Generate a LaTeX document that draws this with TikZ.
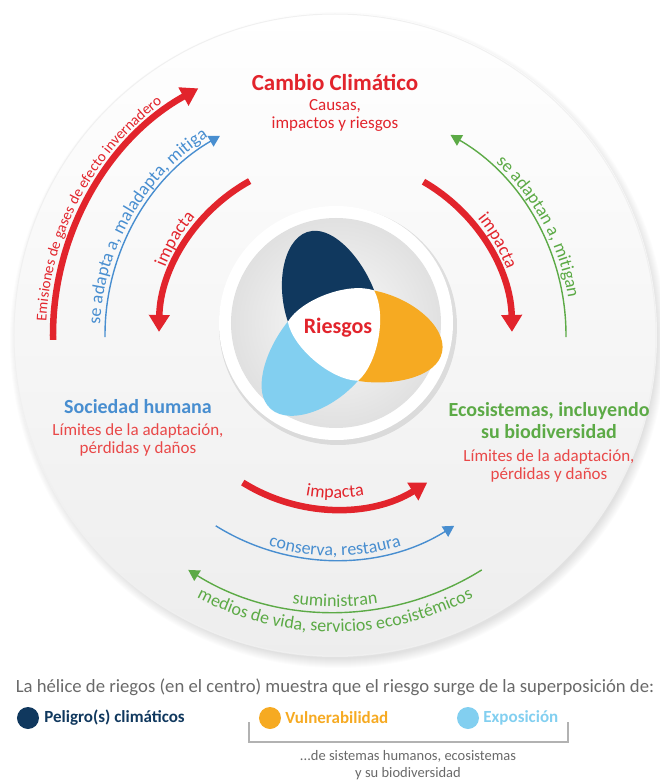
\documentclass[tikz,border=0pt]{standalone}
\usepackage{fontspec}
\setmainfont{Carlito}
\usepackage{tikz}
\usetikzlibrary{arrows.meta,decorations.text,positioning}

\definecolor{rouge}{RGB}{226,36,44}
\definecolor{rougeclair}{RGB}{233,72,72}
\definecolor{bleu}{RGB}{72,142,208}
\definecolor{vert}{RGB}{92,170,70}
\definecolor{marine}{RGB}{16,56,94}
\definecolor{jaune}{RGB}{246,170,34}
\definecolor{ciel}{RGB}{130,207,240}
\definecolor{gristexte}{RGB}{105,105,105}

\newcommand\courbe{\fontsize{18}{20}\selectfont}
\newcommand\courbepetit{\fontsize{15}{17}\selectfont}

\tikzset{
  fleche epaisse/.style={line width=6.5pt, rouge, -{Triangle[width=20pt,length=17pt]}},
  fleche fine/.style={line width=1.4pt, -{Triangle[width=12pt,length=11pt]}},
  texte courbe/.style n args={2}{decorate, decoration={text along path, text align=center, text={|#1|#2}}},
  titre/.style={font=\bfseries\fontsize{23}{25}\selectfont, text=rouge, inner sep=0pt},
  gras/.style={font=\bfseries\fontsize{20}{22.5}\selectfont, align=center, inner sep=0pt},
  sous/.style={font=\fontsize{17}{18}\selectfont, align=center, inner sep=0pt},
  legende/.style={font=\fontsize{18.7}{20}\selectfont, inner sep=0pt},
  petit/.style={font=\fontsize{14.5}{17}\selectfont, align=center, inner sep=0pt},
  point/.style={circle, minimum size=22pt, inner sep=0pt},
  item/.style={font=\bfseries\fontsize{17}{19}\selectfont, inner sep=0pt}
}

\begin{document}
\begin{tikzpicture}[x=1pt,y=1pt]
  \useasboundingbox (-335,-447) rectangle (325,335);
  \coordinate (O) at (0,0);
  \coordinate (ci) at (1,12);
  \coordinate (moyeu) at (5,4);

  % Ombre et grand disque
  \foreach \i in {1,...,10} {
    \fill[black, opacity=0.012] (3,-5) circle (318+\i);
  }
  \shade[top color=white, bottom color=gray!14] (O) circle (322);
  \draw[gray!12, line width=1pt] (O) circle (321);

  % Disque central
  \fill[black, opacity=0.10] (ci) ++(2,-3) circle (119);
  \fill[white] (ci) circle (117);
  \shade[inner color=gray!3, outer color=gray!24] (ci) circle (105);

  % Petales de l'helice
  \foreach \a/\c in {0/marine, -120/jaune, 120/ciel} {
    \fill[\c, shift={(moyeu)}, rotate=\a] (34,41) .. controls (22,72) and (-5,103) .. (-28,100)
      .. controls (-55,97) and (-66,50) .. (-52,9) -- (0,0) -- cycle;
  }
  \fill[white, shift={(moyeu)}] (50:53) .. controls (80:50) and (140:50) .. (170:53)
    .. controls (200:50) and (260:50) .. (290:53) .. controls (320:50) and (20:50) .. (50:53) -- cycle;
  \node[font=\bfseries\fontsize{22}{24}\selectfont, text=rouge] (riesgos) at (3,7) {Riesgos};

  % Fleches de gauche
  \draw[fleche epaisse] (181:282) arc[start angle=181, end angle=119, radius=282];
  \draw[fleche fine, bleu] (180.5:230) arc[start angle=180.5, end angle=120, radius=230];
  \draw[fleche epaisse] (119:176) arc[start angle=119, end angle=179, radius=176];

  % Fleches de droite
  \draw[fleche epaisse] (60:177) arc[start angle=60, end angle=1, radius=177];
  \draw[fleche fine, vert] (-0.5:231) arc[start angle=-0.5, end angle=60, radius=231];

  % Fleches du bas
  \draw[fleche epaisse] (238:174) arc[start angle=238, end angle=302, radius=174];
  \draw[fleche fine, bleu] (238:225) arc[start angle=238, end angle=302, radius=225];
  \draw[fleche fine, vert] (302:277) arc[start angle=302, end angle=238, radius=277];

  % Textes le long des fleches
  \path[texte courbe={\color{rouge}\courbepetit}{Emisiones de gases de efecto invernadero}]
    (182:289) arc[start angle=182, end angle=122, radius=289];
  \path[texte courbe={\color{bleu}\courbe}{se adapta a, maladapta, mitiga}]
    (181:235) arc[start angle=181, end angle=119, radius=235];
  \path[texte courbe={\color{rouge}\courbe}{impacta}]
    (180:183) arc[start angle=180, end angle=118, radius=183];
  \path[texte courbe={\color{rouge}\courbe}{impacta}]
    (60:184) arc[start angle=60, end angle=0, radius=184];
  \path[texte courbe={\color{vert}\courbe}{se adaptan a, mitigan}]
    (58:236) arc[start angle=58, end angle=-2, radius=236];
  \path[texte courbe={\color{rouge}\courbe}{impacta}]
    (240:163) arc[start angle=240, end angle=300, radius=163];
  \path[texte courbe={\color{bleu}\courbe}{conserva, restaura}]
    (235:221) arc[start angle=235, end angle=305, radius=221];
  \path[texte courbe={\color{vert}\courbe}{suministran}]
    (240:272) arc[start angle=240, end angle=300, radius=272];
  \path[texte courbe={\color{vert}\courbe}{medios de vida, servicios ecosistémicos}]
    (232:297) arc[start angle=232, end angle=308, radius=297];

  % Etiquettes des trois systemes
  \node[titre] (cambio) at (0,252) {Cambio Climático};
  \node[sous, text=rouge] (causas) at (0,220) {Causas,\\impactos y riesgos};
  \node[gras, text=bleu] (sociedad) at (-197,-72) {Sociedad humana};
  \node[sous, text=rougeclair] (limites1) at (-197,-105) {Límites de la adaptación,\\pérdidas y daños};
  \node[gras, text=vert] (ecosistemas) at (214,-85.5) {Ecosistemas, incluyendo\\su biodiversidad};
  \node[sous, text=rougeclair] (limites2) at (214,-131) {Límites de la adaptación,\\pérdidas y daños};

  % Legende
  \node[legende, text=gristexte] (phrase) at (0,-352) {La hélice de riegos (en el centro) muestra que el riesgo surge de la superposición de:};
  \node[point, fill=marine] (pmarine) at (-307,-383) {};
  \node[item, text=marine, right=5pt of pmarine] (peligro) {Peligro(s) climáticos};
  \node[point, fill=jaune] (pjaune) at (-65,-383) {};
  \node[item, text=jaune, right=4pt of pjaune] (vulnerabilidad) {Vulnerabilidad};
  \node[point, fill=ciel] (pciel) at (133,-383) {};
  \node[item, text=ciel, right=4pt of pciel] (exposicion) {Exposición};
  \draw[gray!60, line width=1.3pt] (-86,-387) -- (-86,-407) -- (233,-407) -- (233,-387);
  \node[petit, text=gristexte] (sistemas) at (73,-430) {...de sistemas humanos, ecosistemas\\y su biodiversidad};
\end{tikzpicture}
\end{document}
